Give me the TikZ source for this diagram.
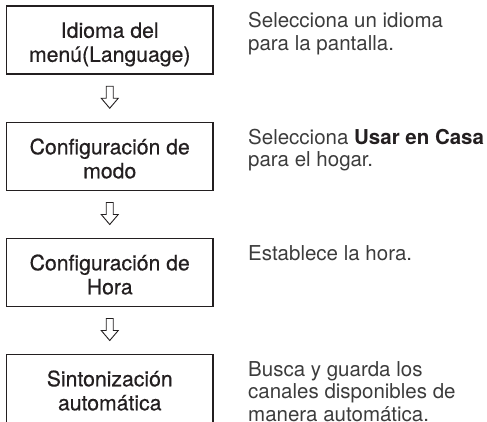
\documentclass[tikz,border=0pt]{standalone}
\usepackage{fontspec}
\setmainfont{TeX Gyre Heros}
\newfontfamily\boxfont[FakeBold=0.5]{TeX Gyre Heros}
\usetikzlibrary{calc}
\definecolor{ink}{HTML}{231F20}
\definecolor{grayink}{HTML}{3C3C3C}
\begin{document}
\begin{tikzpicture}[x=1pt,y=-1pt,
  stepbox/.style={draw=ink, line width=1.6pt, minimum width=206.5pt, minimum height=68pt, inner sep=0pt, outer sep=0pt},
  boxtext/.style={font=\boxfont\fontsize{21.2}{24}\selectfont, text=ink, align=center, inner sep=0pt, yshift=-5pt},
  desc/.style={font=\fontsize{20.5}{22.5}\selectfont, text=grayink, align=left, anchor=north west, inner sep=0pt},
  flowarrow/.style={draw=ink, line width=0.9pt, fill=white, line join=miter}
]
\useasboundingbox (0,0) rectangle (487,422);

\node[stepbox, label={[boxtext]center:{\strut Idioma del\\menú(Language)\strut}}] (b1) at (109.75,40) {};
\node[stepbox, label={[boxtext]center:{\strut Configuración de\\modo\strut}}] (b2) at (109.75,156.5) {};
\node[stepbox, label={[boxtext]center:{\strut Configuración de\\Hora\strut}}] (b3) at (109.75,272.5) {};
\node[stepbox, label={[boxtext]center:{\strut Sintonización\\automática\strut}}] (b4) at (109.75,388.5) {};

\node[desc] (d1) at ($(b1.north west)+(241.5,5.75)$) {\strut Selecciona un idioma\\para la pantalla.};
\node[desc] (d2) at ($(b2.north west)+(241.5,5.75)$) {\strut Selecciona {\color{ink}\textbf{Usar en Casa}}\\para el hogar.};
\node[desc] (d3) at ($(b3.north west)+(241.5,5.75)$) {\strut Establece la hora.};
\node[desc] (d4) at ($(b4.north west)+(241.5,5.75)$) {\strut Busca y guarda los\\canales disponibles de\\manera automática.};

\coordinate (m1) at ($(b1.south)!0.5!(b2.north)$);
\coordinate (m2) at ($(b2.south)!0.5!(b3.north)$);
\coordinate (m3) at ($(b3.south)!0.5!(b4.north)$);
\foreach \m in {m1,m2,m3}{
  \draw[flowarrow] ($(\m)+(-3.5,-12)$) -- ++(7,0) -- ++(0,12) -- ++(5,0)
    -- ($(\m)+(0,10)$) -- ($(\m)+(-8.5,0)$) -- ++(5,0) -- cycle;
}
\end{tikzpicture}
\end{document}
